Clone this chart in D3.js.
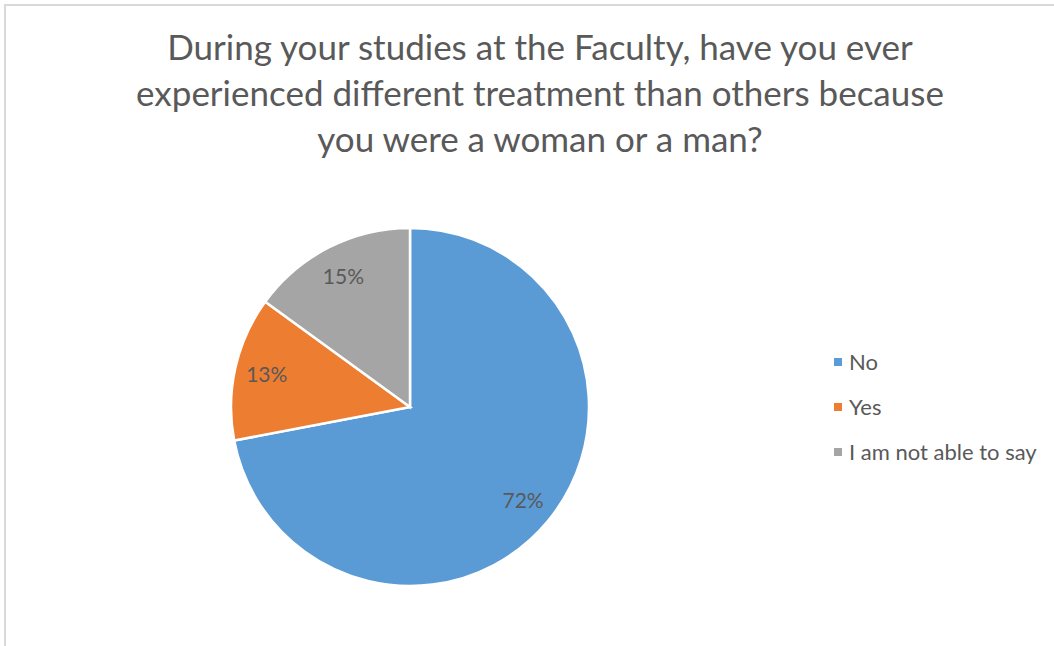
<!DOCTYPE html>
<html>
<head>
<meta charset="utf-8">
<script src="https://cdn.jsdelivr.net/npm/d3@7"></script>
<style>
  body { margin: 0; background: #fff; }
  text { font-family: Lato, "Open Sans", sans-serif; fill: #595959; }
</style>
</head>
<body>
<div class="chart"></div>
<script>
// chart data
var categories = ["No", "Yes", "I am not able to say"];
var shares = [72, 13, 15];
var colors = ["#5B9BD5", "#ED7D31", "#A5A5A5"];
var titleLines = [
  "During your studies at the Faculty, have you ever",
  "experienced different treatment than others because",
  "you were a woman or a man?"
];

var svgWidth = 1054;
var svgHeight = 646;

var svg = d3.select(".chart")
  .append("svg")
  .attr("width", svgWidth)
  .attr("height", svgHeight);

// chart frame (only top and left edges show in the crop)
svg.append("rect")
  .attr("x", 5)
  .attr("y", 5)
  .attr("width", 1060)
  .attr("height", 660)
  .attr("fill", "none")
  .attr("stroke", "#d9d9d9")
  .attr("stroke-width", 2);

// title
svg.append("g")
  .selectAll("text")
  .data(titleLines)
  .enter()
  .append("text")
  .attr("x", 540)
  .attr("y", (d, i) => 60 + i * 46)
  .attr("text-anchor", "middle")
  .attr("font-size", 35)
  .text(d => d);

// pie
var radius = 179;
var pieGroup = svg.append("g")
  .attr("transform", "translate(410, 407)");

var pie = d3.pie().sort(null).value(d => d);
var arc = d3.arc().innerRadius(0).outerRadius(radius);
var labelArc = d3.arc().innerRadius(radius * 0.82).outerRadius(radius * 0.82);

var slices = pie(shares);

pieGroup.selectAll("path")
  .data(slices)
  .enter()
  .append("path")
  .attr("d", arc)
  .attr("fill", (d, i) => colors[i])
  .attr("stroke", "#fff")
  .attr("stroke-width", 2.5);

pieGroup.selectAll("text")
  .data(slices)
  .enter()
  .append("text")
  .attr("transform", d => `translate(${labelArc.centroid(d)})`)
  .attr("text-anchor", "middle")
  .attr("dy", "0.35em")
  .attr("font-size", 21)
  .text(d => d.data + "%");

// legend
var legend = svg.append("g")
  .attr("transform", "translate(834, 362)");

var items = legend.selectAll("g")
  .data(categories)
  .enter()
  .append("g")
  .attr("transform", (d, i) => `translate(0, ${i * 45})`);

items.append("rect")
  .attr("x", 0)
  .attr("y", -4)
  .attr("width", 8)
  .attr("height", 8)
  .attr("fill", (d, i) => colors[i]);

items.append("text")
  .attr("x", 15)
  .attr("dy", "0.35em")
  .attr("font-size", 22)
  .text(d => d);
</script>
</body>
</html>
